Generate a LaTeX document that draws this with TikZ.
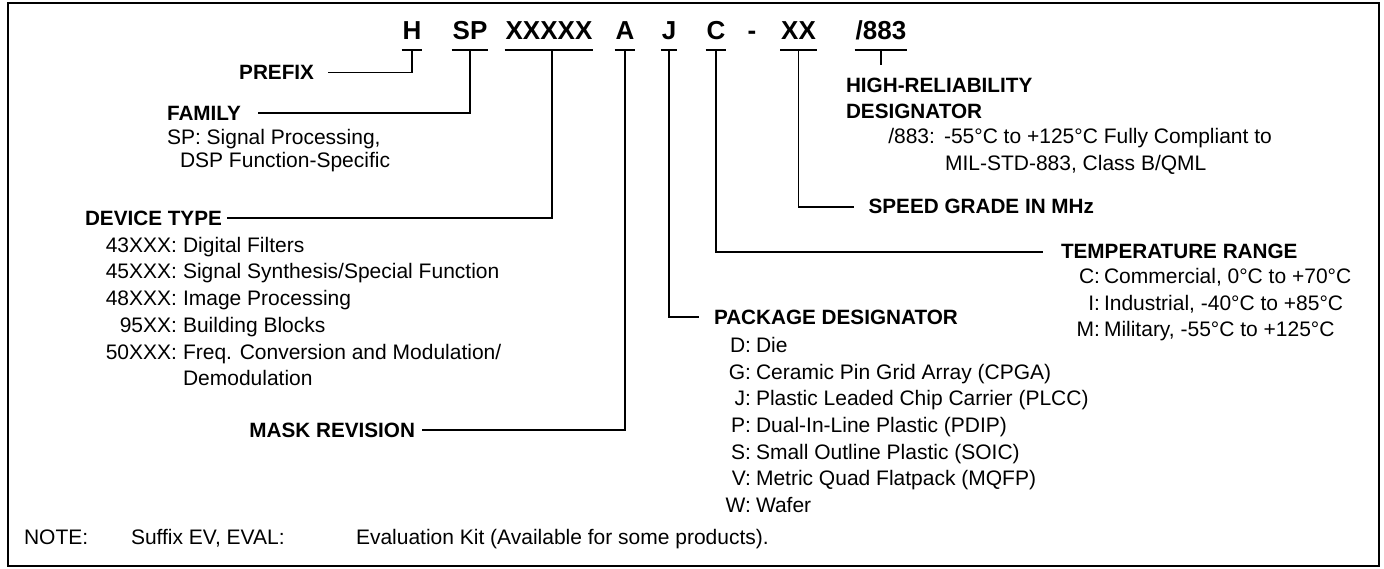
\documentclass[tikz,border=0pt]{standalone}
\usepackage{fontspec}
\setmainfont{Liberation Sans}
\newcommand\txtfont{\fontsize{21}{26}\selectfont}
\newcommand\hdfont{\fontsize{20.7}{26}\selectfont\bfseries}
\newcommand\codefont{\fontsize{26}{30}\selectfont\bfseries}
\begin{document}
\begin{tikzpicture}[x=1pt,y=-1pt,
  every node/.style={inner sep=0pt,outer sep=0pt,font=\txtfont},
  code/.style={font=\codefont,anchor=base},
  head/.style={font=\hdfont},
  item/.style={anchor=base west},
  key/.style={anchor=base east},
  conn/.style={line width=1.8pt},
  frame/.style={line width=2pt}]
\useasboundingbox (0,0) rectangle (1384,569);
\draw[frame] (8,3) rectangle (1379,566);

% part number code
\node[code] (cH)   at (412,40)   {H};
\node[code] (cSP)  at (470,40)   {SP};
\node[code] (cX)   at (549,40)   {XXXXX};
\node[code] (cA)   at (625,40)   {A};
\node[code] (cJ)   at (669,40)   {J};
\node[code] (cC)   at (716,40)   {C};
\node[code] (cD)   at (752,40)   {-};
\node[code] (cXX)  at (798.5,40) {XX};
\node[code] (c883) at (881,40)   {/883};
\foreach \n in {cH,cSP,cX,cA,cJ,cC,cXX,c883}{
  \draw[conn] ([xshift=-1pt,yshift=-10pt]\n.base west) -- ([xshift=1pt,yshift=-10pt]\n.base east);
  \coordinate (s\n) at ([yshift=-10pt]\n.base);
}
\coordinate (hrend) at (881,65);

% left side headings
\node[head,anchor=east] (prefix) at (314,72.5) {PREFIX};
\node[head,anchor=west] (family) at (167,113) {FAMILY};
\node[item] (sp1) at (167,144.3) {SP: Signal Processing,};
\node[item] (sp2) at (180,167.3) {DSP Function-Specific};
\node[head,anchor=west] (device) at (85,218.3) {DEVICE TYPE};
\node[key] (k43) at (177,252.3) {43XXX:};
\node[key] (k45) at (177,279)   {45XXX:};
\node[key] (k48) at (177,305.6) {48XXX:};
\node[key] (k95) at (177,332.3) {95XX:};
\node[key] (k50) at (177,359)   {50XXX:};
\node[item] (v43) at (183,252.3) {Digital Filters};
\node[item] (v45) at (183,279)   {Signal Synthesis/Special Function};
\node[item] (v48) at (183,305.6) {Image Processing};
\node[item] (v95) at (183,332.3) {Building Blocks};
\node[item] (v50) at (183,359)   {Freq. Conversion and Modulation/};
\node[item] (v50b) at (183,385.6) {Demodulation};
\node[head,anchor=east] (mask) at (415,430) {MASK REVISION};

% right side headings
\node[head,anchor=west] (hirel1) at (846,85) {HIGH-RELIABILITY};
\node[head,anchor=west] (hirel2) at (846,111.7) {DESIGNATOR};
\node[key] (k883) at (935,144) {/883:};
\node[item] (v883) at (944,144) {-55°C to +125°C Fully Compliant to};
\node[item] (v883b) at (945,170.6) {MIL-STD-883, Class B/QML};
\node[head,anchor=west] (speed) at (868.6,206.7) {SPEED GRADE IN MHz};
\node[head,anchor=west] (temp) at (1061,251.7) {TEMPERATURE RANGE};
\node[key] (kC) at (1100,284) {C:};
\node[key] (kI) at (1100,311) {I:};
\node[key] (kM) at (1100,337) {M:};
\node[item] (vC) at (1104,284) {Commercial, 0°C to +70°C};
\node[item] (vI) at (1104,311) {Industrial, -40°C to +85°C};
\node[item] (vM) at (1104,337) {Military, -55°C to +125°C};
\node[head,anchor=west] (package) at (714,317) {PACKAGE DESIGNATOR};
\node[key] (kD) at (751,352.3) {D:};
\node[key] (kG) at (751,379)   {G:};
\node[key] (kJ) at (751,405.6) {J:};
\node[key] (kP) at (751,432.3) {P:};
\node[key] (kS) at (751,459)   {S:};
\node[key] (kV) at (751,485.6) {V:};
\node[key] (kW) at (751,512.3) {W:};
\node[item] (vD) at (756,352.3) {Die};
\node[item] (vG) at (756,379)   {Ceramic Pin Grid Array (CPGA)};
\node[item] (vJ) at (756,405.6) {Plastic Leaded Chip Carrier (PLCC)};
\node[item] (vP) at (756,432.3) {Dual-In-Line Plastic (PDIP)};
\node[item] (vS) at (756,459)   {Small Outline Plastic (SOIC)};
\node[item] (vV) at (756,485.6) {Metric Quad Flatpack (MQFP)};
\node[item] (vW) at (756,512.3) {Wafer};

% note
\node[item] (note1) at (24,544) {NOTE:};
\node[item] (note2) at (131,544) {Suffix EV, EVAL:};
\node[item] (note3) at (356,544) {Evaluation Kit (Available for some products).};

% connectors
\draw[conn] (scH)  |- ([xshift=14pt]prefix.east);
\draw[conn] (scSP) |- ([xshift=17pt]family.east);
\draw[conn] ([xshift=3pt]scX) |- ([xshift=5pt]device.east);
\draw[conn] (scA)  |- ([xshift=7pt]mask.east);
\draw[conn] (scJ)  |- ([xshift=-15pt]package.west);
\draw[conn] (scC)  |- ([xshift=-18pt]temp.west);
\draw[conn] (scXX) |- ([xshift=-15pt]speed.west);
\draw[conn] (sc883) -- (hrend);
\end{tikzpicture}
\end{document}
